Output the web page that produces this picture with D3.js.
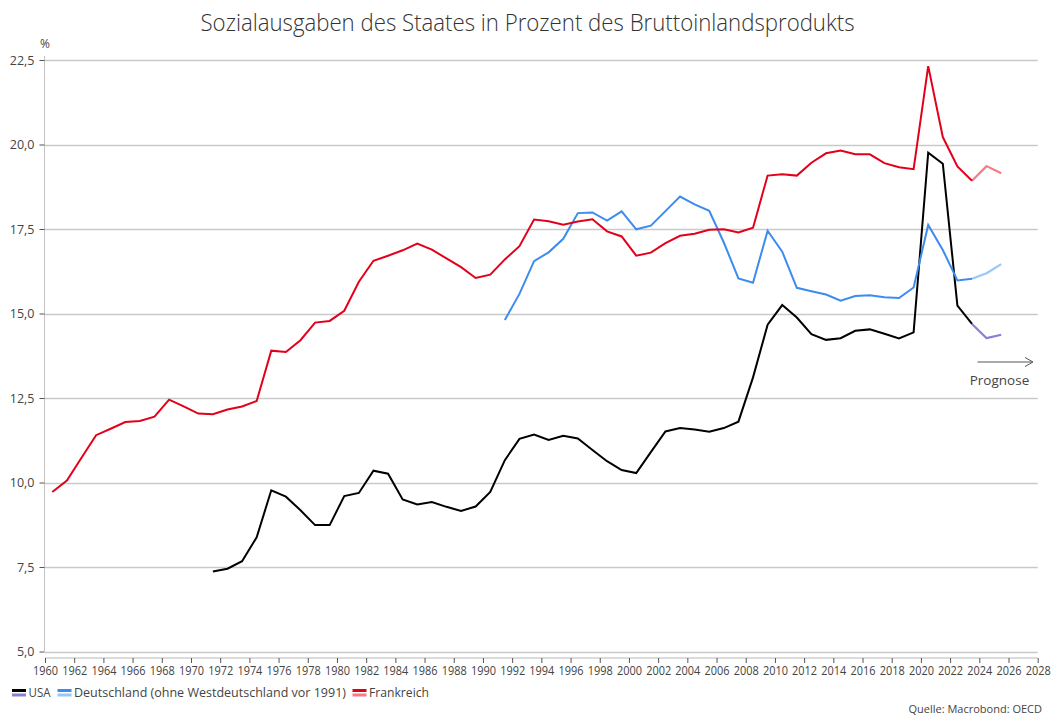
<!DOCTYPE html>
<html>
<head>
<meta charset="utf-8">
<script src="https://cdn.jsdelivr.net/npm/d3@7"></script>
<style>
  body { margin: 0; background: #fff; }
  text { font-family: "Open Sans", sans-serif; }
</style>
</head>
<body>
<script>
// data (values in % of GDP)
var usaYears = d3.range(1971, 2026);
var usaValues = [7.37, 7.45, 7.67, 8.38, 9.77, 9.58, 9.18, 8.74, 8.74, 9.60,
  9.69, 10.35, 10.26, 9.50, 9.35, 9.42, 9.28, 9.16, 9.29, 9.72,
  10.66, 11.29, 11.42, 11.26, 11.38, 11.30, 10.96, 10.63, 10.37, 10.28,
  10.90, 11.51, 11.61, 11.57, 11.50, 11.61, 11.80, 13.11, 14.67, 15.25,
  14.88, 14.39, 14.22, 14.27, 14.49, 14.53, 14.40, 14.26, 14.44, 19.76,
  19.43, 15.23, 14.69, 14.27, 14.37];

var deYears = d3.range(1991, 2026);
var deValues = [14.81, 15.58, 16.55, 16.81, 17.21, 17.97, 17.99, 17.75, 18.02, 17.49,
  17.60, 18.03, 18.46, 18.23, 18.04, 17.10, 16.04, 15.91, 17.45, 16.83,
  15.76, 15.66, 15.56, 15.38, 15.52, 15.54, 15.48, 15.46, 15.77, 17.62,
  16.88, 15.98, 16.03, 16.19, 16.46];

var frYears = d3.range(1960, 2026);
var frValues = [9.72, 10.06, 10.73, 11.40, 11.59, 11.79, 11.82, 11.95, 12.45, 12.25,
  12.04, 12.02, 12.16, 12.25, 12.41, 13.90, 13.86, 14.21, 14.73, 14.78,
  15.08, 15.94, 16.56, 16.71, 16.87, 17.07, 16.89, 16.63, 16.37, 16.05,
  16.15, 16.60, 16.99, 17.78, 17.73, 17.63, 17.72, 17.79, 17.43, 17.28,
  16.71, 16.80, 17.08, 17.30, 17.36, 17.48, 17.49, 17.40, 17.54, 19.08,
  19.12, 19.08, 19.46, 19.74, 19.82, 19.71, 19.71, 19.45, 19.33, 19.27,
  22.32, 20.22, 19.35, 18.93, 19.36, 19.15];

var forecastFrom = 2023;
var yTicks = [5, 7.5, 10, 12.5, 15, 17.5, 20, 22.5];
var xTicks = d3.range(1960, 2029, 2);

var series = [
  { name: "USA", years: usaYears, values: usaValues, color: "#000000", light: "#8a7fd3" },
  { name: "Deutschland (ohne Westdeutschland vor 1991)", years: deYears, values: deValues, color: "#3c8cf0", light: "#98c7fa" },
  { name: "Frankreich", years: frYears, values: frValues, color: "#e3001b", light: "#f57b85" }
];

var W = 1055, H = 717;
var svg = d3.select("body").append("svg")
  .attr("width", W)
  .attr("height", H);

var x = d3.scaleLinear().domain([1960, 2028]).range([45, 1037.7]);
var y = d3.scaleLinear().domain([5, 22.5]).range([651.5, 60]);

// title
svg.append("text")
  .attr("x", 527.5)
  .attr("y", 31)
  .attr("text-anchor", "middle")
  .style("font-size", "23px")
  .style("font-weight", 300)
  .attr("fill", "#333")
  .attr("textLength", 654)
  .attr("lengthAdjust", "spacingAndGlyphs")
  .text("Sozialausgaben des Staates in Prozent des Bruttoinlandsprodukts");

svg.append("text")
  .attr("x", 45)
  .attr("y", 48)
  .attr("text-anchor", "middle")
  .style("font-size", "12px")
  .attr("fill", "#444")
  .text("%");

// gridlines
svg.append("g")
  .selectAll("line")
  .data(yTicks)
  .enter()
  .append("line")
  .attr("x1", 45)
  .attr("x2", 1037.7)
  .attr("y1", function(d) { return Math.round(y(d)) + 0.5; })
  .attr("y2", function(d) { return Math.round(y(d)) + 0.5; })
  .attr("stroke", "#c9c9c9")
  .attr("stroke-width", 1.3);

// y axis
var yAxis = svg.append("g")
  .attr("transform", "translate(44.5,0)")
  .call(d3.axisLeft(y).tickValues(yTicks).tickSize(5).tickPadding(5)
    .tickFormat(function(d) { return d3.format(".1f")(d).replace(".", ","); }));
yAxis.select(".domain").attr("stroke", "#c4c4c4").attr("d", "M0,56V651.5");
yAxis.selectAll(".tick line").attr("stroke", "#555");
yAxis.selectAll("text").style("font-size", "12.5px").attr("fill", "#444")
  .style("font-family", "'Open Sans', sans-serif");

// x axis
var xAxis = svg.append("g")
  .attr("transform", "translate(0,658)")
  .call(d3.axisBottom(x).tickValues(xTicks).tickSize(5).tickPadding(3).tickFormat(d3.format("d")));
xAxis.select(".domain").attr("stroke", "#dcdcdc").attr("stroke-width", 2).attr("d", "M45,0H1037.7");
xAxis.selectAll(".tick line").attr("stroke", "#555");
xAxis.selectAll("text").style("font-size", "12px").attr("fill", "#444")
  .style("font-family", "'Open Sans', sans-serif")
  .attr("textLength", 25).attr("lengthAdjust", "spacingAndGlyphs");

// lines, points sit at mid-year
var line = d3.line()
  .x(function(d) { return x(d[0] + 0.5); })
  .y(function(d) { return y(d[1]); });

var lines = svg.append("g").attr("class", "lines");
series.forEach(function(s) {
  var pts = s.years.map(function(yr, i) { return [yr, s.values[i]]; });
  var actual = pts.filter(function(d) { return d[0] <= forecastFrom; });
  var forecast = pts.filter(function(d) { return d[0] >= forecastFrom; });
  lines.append("path")
    .attr("d", line(forecast))
    .attr("fill", "none")
    .attr("stroke", s.light)
    .attr("stroke-width", 2.2)
    .attr("stroke-linejoin", "round");
  lines.append("path")
    .attr("d", line(actual))
    .attr("fill", "none")
    .attr("stroke", s.color)
    .attr("stroke-width", 2)
    .attr("stroke-linejoin", "miter");
});

// Prognose arrow
var arrowY = 362;
svg.append("line")
  .attr("x1", 977.5).attr("x2", 1032)
  .attr("y1", arrowY).attr("y2", arrowY)
  .attr("stroke", "#555").attr("stroke-width", 1);
svg.append("path")
  .attr("d", "M1025," + (arrowY - 4.5) + "L1033," + arrowY + "L1025," + (arrowY + 4.5))
  .attr("fill", "none").attr("stroke", "#555").attr("stroke-width", 1);
svg.append("text")
  .attr("x", 999.5)
  .attr("y", 385)
  .attr("text-anchor", "middle")
  .style("font-size", "13.5px")
  .attr("fill", "#444")
  .text("Prognose");

// legend
var legendX = [12, 57.5, 352.5];
var legendW = [22, 272, 60];
var legend = svg.append("g").attr("class", "legend");
series.forEach(function(s, i) {
  var g = legend.append("g").attr("transform", "translate(" + legendX[i] + ",0)");
  g.append("rect").attr("x", 0).attr("y", 689).attr("width", 14).attr("height", 3).attr("fill", s.color);
  g.append("rect").attr("x", 0).attr("y", 693.5).attr("width", 14).attr("height", 3).attr("fill", s.light);
  g.append("text")
    .attr("x", 16.5)
    .attr("y", 697)
    .style("font-size", "13.5px")
    .attr("fill", "#444")
    .attr("textLength", legendW[i])
    .attr("lengthAdjust", "spacingAndGlyphs")
    .text(s.name);
});

// source
svg.append("text")
  .attr("x", 1042)
  .attr("y", 713)
  .attr("text-anchor", "end")
  .style("font-size", "11px")
  .attr("fill", "#444")
  .text("Quelle: Macrobond: OECD");
</script>
</body>
</html>
